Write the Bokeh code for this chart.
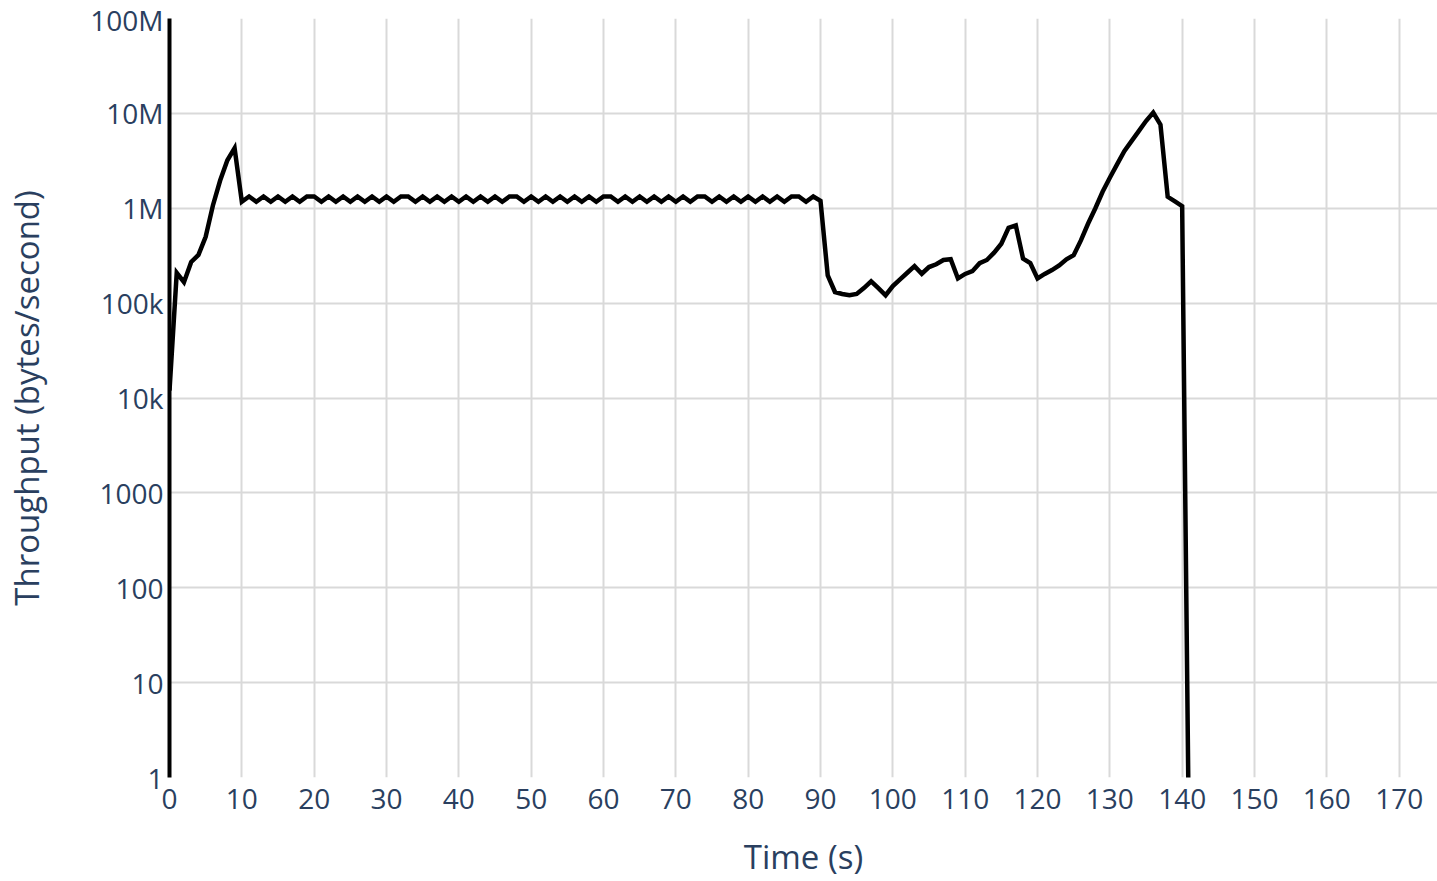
from bokeh.plotting import figure
from bokeh.models import Range1d, FixedTicker, CustomJSTickFormatter
from bokeh.embed import file_html
from bokeh.resources import INLINE

# Sampled throughput, one value per second
time_s = list(range(0, 142))
throughput = [
    12000, 208000, 166000, 272000, 322000, 500000, 1070000, 1960000, 3200000, 4300000,
    1170000, 1330000, 1170000, 1330000, 1170000, 1330000, 1170000, 1330000, 1170000, 1330000,
    1330000, 1170000, 1330000, 1170000, 1330000, 1170000, 1330000, 1170000, 1330000, 1170000,
    1330000, 1170000, 1330000, 1330000, 1170000, 1330000, 1170000, 1330000, 1170000, 1330000,
    1170000, 1330000, 1170000, 1330000, 1170000, 1330000, 1170000, 1330000, 1330000, 1170000,
    1330000, 1170000, 1330000, 1170000, 1330000, 1170000, 1330000, 1170000, 1330000, 1170000,
    1330000, 1330000, 1170000, 1330000, 1170000, 1330000, 1170000, 1330000, 1170000, 1330000,
    1170000, 1330000, 1170000, 1330000, 1330000, 1170000, 1330000, 1170000, 1330000, 1170000,
    1330000, 1170000, 1330000, 1170000, 1330000, 1170000, 1330000, 1330000, 1170000, 1330000,
    1200000, 196000, 131000, 125000, 121000, 125000, 144000, 170000, 144000, 121000,
    151000, 178000, 209000, 245000, 204000, 240000, 257000, 285000, 290000, 182000,
    203000, 217000, 264000, 285000, 340000, 423000, 623000, 660000, 295000, 264000,
    182000, 203000, 223000, 250000, 290000, 320000, 458000, 690000, 1000000, 1490000,
    2100000, 2900000, 4000000, 5100000, 6500000, 8300000, 10200000, 7600000, 1320000, 1180000,
    1050000, 0.07,
]

x_ticks = [0, 10, 20, 30, 40, 50, 60, 70, 80, 90, 100, 110, 120, 130, 140, 150, 160, 170]
y_ticks = [1, 10, 100, 1000, 1e4, 1e5, 1e6, 1e7, 1e8]
y_tick_labels = ["1", "10", "100", "1000", "10k", "100k", "1M", "10M", "100M"]

TEXT = "#2a3f5f"
GRID = "#d9d9d9"
FONT = "Open Sans"

p = figure(
    width=1437, height=881,
    y_axis_type="log",
    x_range=Range1d(0, 175.3), y_range=Range1d(1, 1e8),
    min_border_left=169, min_border_right=0, min_border_top=18, min_border_bottom=103,
    toolbar_location=None, output_backend="svg",
    background_fill_color="white", border_fill_color="white",
)
p.outline_line_color = None

p.line(time_s, throughput, line_color="black", line_width=4.5, line_join="miter")

# x axis
p.xaxis.ticker = FixedTicker(ticks=x_ticks)
p.xaxis.axis_line_color = None
p.xaxis.major_tick_line_color = None
p.xaxis.minor_tick_line_color = None
p.xaxis.axis_label = "Time (s)"
p.xaxis.axis_label_standoff = 22

# y axis
p.yaxis.ticker = FixedTicker(ticks=y_ticks)
p.yaxis.formatter = CustomJSTickFormatter(
    args=dict(vals=y_ticks, labs=y_tick_labels),
    code="""
        for (let i = 0; i < vals.length; i++) {
            if (Math.abs(Math.log10(tick) - Math.log10(vals[i])) < 1e-6) return labs[i];
        }
        return '';
    """,
)
p.yaxis.axis_line_color = "black"
p.yaxis.axis_line_width = 4
p.yaxis.major_tick_line_color = None
p.yaxis.minor_tick_line_color = None
p.yaxis.major_label_standoff = 0
p.yaxis.axis_label = "Throughput (bytes/second)"
p.yaxis.axis_label_standoff = 38

for ax in (p.xaxis[0], p.yaxis[0]):
    ax.major_label_text_font = FONT
    ax.major_label_text_font_size = "28px"
    ax.major_label_text_color = TEXT
    ax.axis_label_text_font = FONT
    ax.axis_label_text_font_size = "33px"
    ax.axis_label_text_font_style = "normal"
    ax.axis_label_text_color = TEXT

p.xgrid.ticker = FixedTicker(ticks=x_ticks)
p.ygrid.ticker = FixedTicker(ticks=y_ticks)
p.xgrid.grid_line_color = GRID
p.ygrid.grid_line_color = GRID
p.xgrid.grid_line_width = 2
p.ygrid.grid_line_width = 2
p.ygrid.minor_grid_line_color = None

open("out.html", "w").write(file_html(p, INLINE))
